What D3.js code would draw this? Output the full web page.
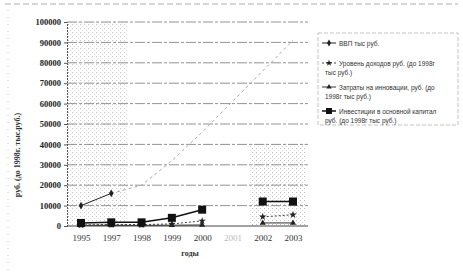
<!DOCTYPE html>
<html><head><meta charset="utf-8">
<script src="https://cdn.jsdelivr.net/npm/d3@7"></script>
<style>body{margin:0;background:#fff}svg{display:block}</style>
</head><body>
<svg id="c" width="463" height="277"></svg>
<script>
const years = ["1995","1997","1998","1999","2000","2001","2002","2003"];
const yTicks = [0,10000,20000,30000,40000,50000,60000,70000,80000,90000,100000];
const vvp = [10000,16000,20000,32000,46000,61000,76000,91000];
const income = [500,800,700,1000,2500,null,4500,5500];
const innov = [300,300,300,400,500,null,1500,1500];
const invest = [1500,1800,1800,4000,8000,null,12000,12000];
const legendLabels = [
  ["ВВП  тыс руб."],
  ["Уровень доходов  руб. (до 1998г", "тыс руб.)"],
  ["Затраты на инновации, руб. (до", "1998г  тыс руб.)"],
  ["Инвестиции в основной капитал", "руб. (до 1998г  тыс руб.)"]
];

const svg = d3.select("#c");
const x = d3.scalePoint().domain(years).range([81,293]);
const y = d3.scaleLinear().domain([0,100000]).range([226,22]);

// frame lines
svg.append("line").attr("x1",5).attr("x2",458).attr("y1",4).attr("y2",4)
  .attr("stroke","#999").attr("stroke-dasharray","6,3").attr("stroke-width",0.8);
svg.append("line").attr("x1",8).attr("x2",8).attr("y1",10).attr("y2",270)
  .attr("stroke","#bbb").attr("stroke-dasharray","1,6").attr("stroke-width",0.8);

// stippled background patches
const defs = svg.append("defs");
const pat = defs.append("pattern").attr("id","stip").attr("width",4).attr("height",4).attr("patternUnits","userSpaceOnUse");
pat.append("rect").attr("width",1).attr("height",1).attr("fill","#aaa");
pat.append("rect").attr("x",2).attr("y",2).attr("width",1).attr("height",1).attr("fill","#ccc");
svg.append("rect").attr("x",67).attr("y",y(100000)).attr("width",60).attr("height",y(0)-y(100000)).attr("fill","url(#stip)").attr("opacity",0.7);
svg.append("rect").attr("x",250).attr("y",y(40000)).attr("width",56).attr("height",y(0)-y(40000)).attr("fill","url(#stip)").attr("opacity",0.8);

// grid
svg.append("g").selectAll("line").data(yTicks.filter(d=>d>0)).join("line")
  .attr("x1",67).attr("x2",308).attr("y1",d=>y(d)).attr("y2",d=>y(d))
  .attr("stroke","#777").attr("stroke-width",0.8).attr("stroke-dasharray","10,2,3,2");

// y axis
const ya = svg.append("g").attr("transform","translate(67,0)")
  .call(d3.axisLeft(y).tickValues(yTicks).tickSize(3).tickFormat(d3.format("d")));
ya.select(".domain").attr("stroke","#555").attr("stroke-dasharray","2,1");
ya.selectAll("text").attr("font-family","Liberation Serif").attr("font-size",8.5).attr("fill","#222").attr("font-weight","bold");
ya.selectAll(".tick line").attr("stroke","#555");

// x axis
svg.append("line").attr("x1",67).attr("x2",308).attr("y1",y(0)).attr("y2",y(0)).attr("stroke","#444").attr("stroke-width",1);
const xa = svg.append("g").attr("transform","translate(0,"+(y(0)+4)+")")
  .call(d3.axisBottom(x).tickSize(0));
xa.select(".domain").remove();
xa.selectAll("text").attr("font-family","Liberation Serif").attr("font-size",9).attr("fill",(d)=>d==="2001"?"#bbb":"#333").attr("dy","0.9em");

// axis titles
svg.append("text").attr("x",190).attr("y",256).attr("text-anchor","middle")
  .attr("font-family","Liberation Serif").attr("font-size",8).attr("font-weight","bold").attr("fill","#333").text("годы");
svg.append("text").attr("transform","translate(20,155) rotate(-90)").attr("text-anchor","middle")
  .attr("font-family","Liberation Serif").attr("font-size",8).attr("font-weight","bold").attr("fill","#333").text("руб. (до 1998г. тыс.руб.)");

const line = d3.line().defined(d=>d.v!=null).x(d=>x(d.k)).y(d=>y(d.v));
const toPts = arr => years.map((k,i)=>({k,v:arr[i]}));

// VVP: first segment solid, remainder faint dashed
const vp = toPts(vvp);
svg.append("path").attr("d",line(vp.slice(1))).attr("fill","none").attr("stroke","#aaa").attr("stroke-width",1).attr("stroke-dasharray","3,3");
svg.append("path").attr("d",line(vp.slice(0,2))).attr("fill","none").attr("stroke","#222").attr("stroke-width",1);
svg.append("g").selectAll("path").data(vp.slice(0,2)).join("path")
  .attr("d",d3.symbol(d3.symbolDiamond,18)).attr("transform",d=>`translate(${x(d.k)},${y(d.v)})`).attr("fill","#222");

// innovations
const ip = toPts(innov);
svg.append("path").attr("d",line(ip)).attr("fill","none").attr("stroke","#333").attr("stroke-width",1);
svg.append("g").selectAll("path").data(ip.filter(d=>d.v!=null)).join("path")
  .attr("d",d3.symbol(d3.symbolTriangle,16)).attr("transform",d=>`translate(${x(d.k)},${y(d.v)})`).attr("fill","#222");

// income
const inc = toPts(income);
svg.append("path").attr("d",line(inc)).attr("fill","none").attr("stroke","#444").attr("stroke-width",1).attr("stroke-dasharray","2,2");
svg.append("g").selectAll("path").data(inc.filter(d=>d.v!=null)).join("path")
  .attr("d",d3.symbol(d3.symbolStar,18)).attr("transform",d=>`translate(${x(d.k)},${y(d.v)})`).attr("fill","#222");

// investments
const inv = toPts(invest);
svg.append("path").attr("d",line(inv)).attr("fill","none").attr("stroke","#111").attr("stroke-width",1.5);
svg.append("g").selectAll("rect").data(inv.filter(d=>d.v!=null)).join("rect")
  .attr("x",d=>x(d.k)-4).attr("y",d=>y(d.v)-4).attr("width",8).attr("height",8).attr("fill","#111");

// legend
const lg = svg.append("g");
lg.append("rect").attr("x",318).attr("y",33).attr("width",140).attr("height",92)
  .attr("fill","none").attr("stroke","#aaa").attr("stroke-width",0.7).attr("stroke-dasharray","4,2");
const ly = [43,63,87,111];
const sym = [
  g=>{g.append("line").attr("x1",322).attr("x2",336).attr("stroke","#222");g.append("path").attr("d",d3.symbol(d3.symbolDiamond,14)).attr("transform","translate(329,0)").attr("fill","#222");},
  g=>{g.append("line").attr("x1",322).attr("x2",336).attr("stroke","#444").attr("stroke-dasharray","2,2");g.append("path").attr("d",d3.symbol(d3.symbolStar,14)).attr("transform","translate(329,0)").attr("fill","#222");},
  g=>{g.append("line").attr("x1",322).attr("x2",336).attr("stroke","#333");g.append("path").attr("d",d3.symbol(d3.symbolTriangle,12)).attr("transform","translate(329,0)").attr("fill","#222");},
  g=>{g.append("line").attr("x1",322).attr("x2",336).attr("stroke","#111").attr("stroke-width",1.5);g.append("rect").attr("x",326).attr("y",-3).attr("width",6).attr("height",6).attr("fill","#111");}
];
legendLabels.forEach((lbl,i)=>{
  const g = lg.append("g").attr("transform",`translate(0,${ly[i]})`);
  sym[i](g);
  lbl.forEach((t,j)=>{
    g.append("text").attr("x",j===0?339:325).attr("y",j*9+2.5)
      .attr("font-family","Liberation Sans").attr("font-size",6.5).attr("fill","#333").text(t);
  });
});
</script>
</body></html>
